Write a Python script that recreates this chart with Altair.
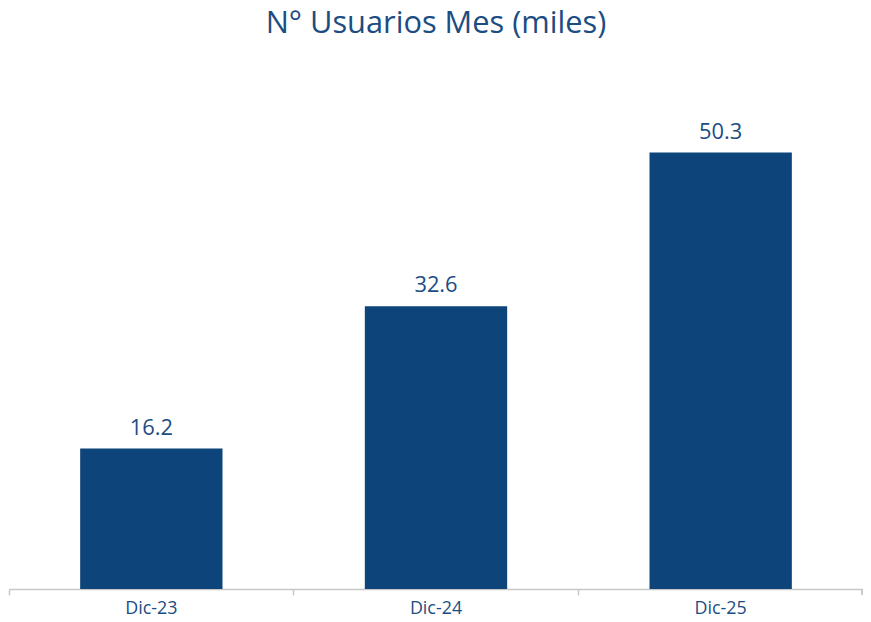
import altair as alt
import pandas as pd

categories = ["Dic-23", "Dic-24", "Dic-25"]
values = [16.2, 32.6, 50.3]
labels = ["16.2", "32.6", "50.3"]

df = pd.DataFrame({"cat": categories, "val": values, "lab": labels})

W, H = 860, 520
BAR = "#0D4479"
TXT = "#1B4D82"
GRID = "#C8C8C8"
FONT = "Open Sans"

x = alt.X("cat:N", sort=categories, title=None,
          scale=alt.Scale(paddingInner=0, paddingOuter=0),
          axis=alt.Axis(labelAngle=0, labelFontSize=18, labelColor=TXT, labelFont=FONT,
                        domainColor=GRID, tickColor=GRID, tickSize=6, bandPosition=0,
                        labelPadding=5, domainWidth=1.5, tickWidth=1.5))
y = alt.Y("val:Q", title=None, scale=alt.Scale(domain=[0, 59.5]), axis=None)

bars = alt.Chart(df).mark_bar(color=BAR, width=alt.RelativeBandSize(0.5)).encode(x=x, y=y)
text = alt.Chart(df).mark_text(color=TXT, fontSize=22, font=FONT, baseline="alphabetic", dy=-14).encode(
    x=x, y=y, text="lab:N")
endtick = alt.Chart(df).mark_rule(color=GRID, strokeWidth=1.5).encode(
    x=alt.value(W - 0.75), y=alt.value(H), y2=alt.value(H + 6))

chart = alt.layer(bars, text, endtick).properties(
    width=W, height=H, padding={"top": -2, "left": 0, "right": 0, "bottom": 0},
    title=alt.TitleParams("N° Usuarios Mes (miles)", fontSize=31, font=FONT, color=TXT,
                          fontWeight="normal", anchor="middle", offset=33),
).configure_view(stroke=None)

chart.save("out.html", embed_options={"renderer": "svg", "actions": False})
